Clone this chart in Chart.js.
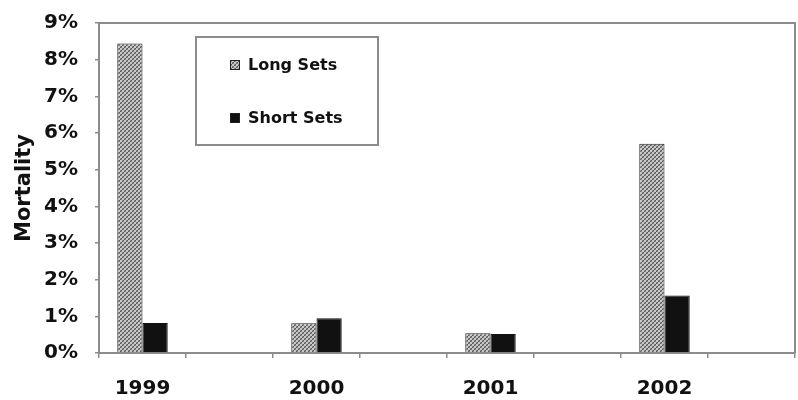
<!DOCTYPE html>
<html>
<head>
<meta charset="utf-8">
<script src="https://cdn.jsdelivr.net/npm/chart.js@4/dist/chart.umd.min.js"></script>
<style>
  html, body { margin: 0; padding: 0; background: #fff; }
  #wrap { width: 798px; height: 400px; }
</style>
</head>
<body>
<div id="wrap"><canvas id="mortChart" width="798" height="400"></canvas></div>
<script>
// --- Data ---
const years = ['1999', '2000', '2001', '2002'];
const longSets = [8.44, 0.81, 0.54, 5.71];   // % mortality
const shortSets = [0.82, 0.95, 0.52, 1.57];
const yTicks = [0, 1, 2, 3, 4, 5, 6, 7, 8, 9];

// Excel-style axis: each year is followed by an empty slot
const labels = [];
const longData = [];
const shortData = [];
years.forEach((y, i) => {
    labels.push(y, '');
    longData.push(longSets[i], null);
    shortData.push(shortSets[i], null);
});

const FONT = 'DejaVu Sans';
const AXIS_GRAY = '#8c8c8c';

// fine checkered/diagonal fill for the long sets
function makeHatch() {
    const c = document.createElement('canvas');
    c.width = 4; c.height = 4;
    const g = c.getContext('2d');
    g.fillStyle = '#cacaca';
    g.fillRect(0, 0, 4, 4);
    for (let i = 0; i < 4; i++) {
        g.fillStyle = '#5c5c5c';
        g.fillRect(i, 3 - i, 1, 1);
        g.fillStyle = '#858585';
        g.fillRect(i, (i + 2) % 4, 1, 1);
    }
    return g.createPattern(c, 'repeat');
}

const ctx = document.getElementById('mortChart').getContext('2d');
const hatch = makeHatch();

// frame the plot area + draw the boxed legend inside it
const frameAndLegend = {
    id: 'frameAndLegend',
    afterDraw(chart) {
        const a = chart.chartArea;
        const c = chart.ctx;
        c.save();
        c.strokeStyle = AXIS_GRAY;
        c.lineWidth = 2;
        c.beginPath();
        c.moveTo(a.left, a.top);
        c.lineTo(a.right, a.top);
        c.lineTo(a.right, a.bottom);
        c.stroke();

        // legend box
        const bx = a.left + 97, by = a.top + 14, bw = 182, bh = 108;
        c.fillStyle = '#fff';
        c.fillRect(bx, by, bw, bh);
        c.strokeRect(bx, by, bw, bh);

        const items = chart.data.datasets;
        const rows = [by + 28, by + 81];
        c.font = 'bold 16px "' + FONT + '"';
        c.textBaseline = 'middle';
        c.textAlign = 'left';
        items.forEach((ds, i) => {
            const y = rows[i];
            c.fillStyle = ds.backgroundColor;
            c.fillRect(bx + 34, y - 5, 10, 10);
            c.strokeStyle = '#222';
            c.lineWidth = 1;
            c.strokeRect(bx + 34.5, y - 4.5, 9, 9);
            c.fillStyle = '#111';
            c.fillText(ds.label, bx + 52, y + 1);
        });
        c.restore();
    }
};

new Chart(ctx, {
    type: 'bar',
    data: {
        labels: labels,
        datasets: [
            {
                label: 'Long Sets',
                data: longData,
                backgroundColor: hatch,
                borderColor: '#222',
                borderWidth: 1,
                categoryPercentage: 0.58,
                barPercentage: 1.0
            },
            {
                label: 'Short Sets',
                data: shortData,
                backgroundColor: '#111',
                borderColor: '#111',
                borderWidth: 1,
                categoryPercentage: 0.58,
                barPercentage: 1.0
            }
        ]
    },
    options: {
        responsive: false,
        animation: false,
        layout: { padding: { top: 23, right: 3, left: 0, bottom: 0 } },
        plugins: {
            legend: { display: false },
            tooltip: { enabled: false }
        },
        scales: {
            x: {
                offset: true,
                grid: {
                    offset: true,
                    drawOnChartArea: false,
                    drawTicks: true,
                    tickLength: 5,
                    color: AXIS_GRAY,
                    lineWidth: 1.5
                },
                border: { color: AXIS_GRAY, width: 2 },
                ticks: {
                    color: '#111',
                    font: { family: FONT, size: 20, weight: 'bold' },
                    padding: 19,
                    maxRotation: 0,
                    autoSkip: false
                },
                afterFit: (s) => { s.height = 47; s.paddingLeft = 0; s.paddingRight = 0; }
            },
            y: {
                min: 0,
                max: 9,
                afterBuildTicks: (s) => { s.ticks = yTicks.map(v => ({ value: v })); },
                grid: {
                    drawOnChartArea: false,
                    drawTicks: true,
                    tickLength: 4,
                    color: AXIS_GRAY,
                    lineWidth: 1.5
                },
                border: { color: AXIS_GRAY, width: 2 },
                ticks: {
                    color: '#111',
                    font: { family: FONT, size: 20, weight: 'bold' },
                    padding: 17,
                    callback: (v) => v + '%'
                },
                title: {
                    display: true,
                    text: 'Mortality',
                    color: '#111',
                    font: { family: FONT, size: 21, weight: 'bold' },
                    padding: { top: 12, bottom: 0 }
                },
                afterFit: (s) => { s.width = 99; s.paddingTop = 0; s.paddingBottom = 0; }
            }
        }
    },
    plugins: [frameAndLegend]
});
</script>
</body>
</html>
